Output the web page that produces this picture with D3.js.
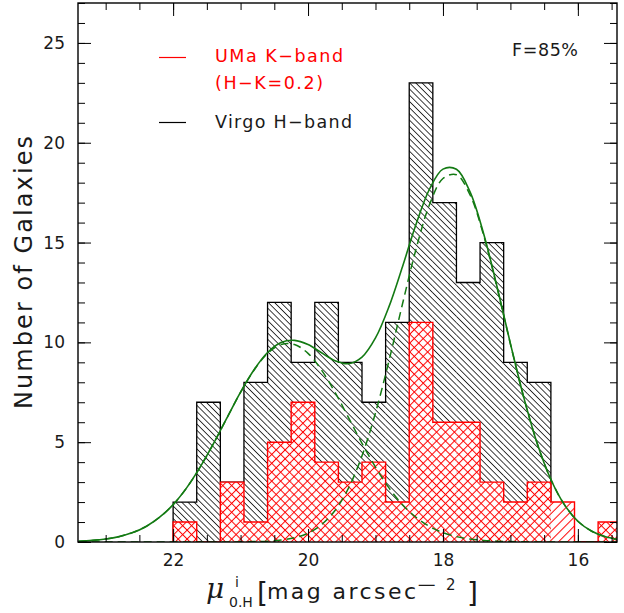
<!DOCTYPE html>
<html><head><meta charset="utf-8">
<script src="https://cdn.jsdelivr.net/npm/d3@7"></script>
<style>
body{margin:0;background:#fff}
svg text{font-family:"DejaVu Sans","Liberation Sans",sans-serif}
</style>
</head><body><svg id="chart" width="624" height="613"></svg>
<script>
// ---------------- data ----------------
const binEdges = [22.00,21.65,21.30,20.95,20.60,20.25,19.90,19.55,19.20,18.85,18.50,18.15,17.80,17.45,17.10,16.75,16.40,16.05,15.70,15.35];
const virgoCounts = [2,7,3,8,12,9,12,9,7,11,23,17,13,15,9,8,0,0,0];
const umaCounts   = [1,0,3,1,5,7,4,3,4,2,11,6,6,3,2,3,2,0,1];

const fitMag = [23.4,23.2,23.0,22.8,22.6,22.4,22.2,22.0,21.8,21.6,21.4,21.2,21.0,20.8,20.6,20.4,20.2,20.0,19.8,19.6,19.4,19.2,19.0,18.8,18.6,18.4,18.2,18.0,17.8,17.6,17.4,17.2,17.0,16.8,16.6,16.4,16.2,16.0,15.8,15.6,15.4];
const fitTotal = [0.04,0.08,0.15,0.27,0.47,0.78,1.24,1.87,2.71,3.75,4.94,6.23,7.51,8.63,9.49,9.99,10.10,9.89,9.48,9.08,8.93,9.26,10.22,11.79,13.79,15.90,17.67,18.68,18.67,17.55,15.48,12.81,9.94,7.22,4.91,3.13,1.87,1.04,0.55,0.27,0.12];
const fitFaint = [0.04,0.08,0.15,0.27,0.47,0.78,1.24,1.87,2.71,3.75,4.94,6.23,7.50,8.61,9.45,9.89,9.89,9.45,8.61,7.50,6.23,4.94,3.75,2.71,1.87,1.24,0.78,0.47,0.27,0.15,0.08,0.04,0.02,0.01,0,0,0,0,0,0,0];
const fitBright = [0,0,0,0,0,0,0,0,0,0,0,0,0.01,0.02,0.04,0.10,0.21,0.44,0.87,1.58,2.70,4.32,6.47,9.08,11.92,14.66,16.89,18.21,18.40,17.40,15.40,12.77,9.92,7.21,4.91,3.13,1.87,1.04,0.55,0.27,0.12];

const xTickLabels = [22,20,18,16];
const yTickLabels = [0,5,10,15,20,25];
const legendRed = ["UMa K\u2212band","(H\u2212K=0.2)"];
const legendBlack = "Virgo H\u2212band";
const fractionLabel = "F=85%";

// ---------------- layout ----------------
const L=78, R=617, T=3, B=542;
const svg = d3.select("#chart");
const x = d3.scaleLinear().domain([23.41,15.42]).range([L,R]);
const y = d3.scaleLinear().domain([0,27]).range([B,T]);
const green = "#137a13";
const ink = "#1a1a1a";

const defs = svg.append("defs");
defs.append("clipPath").attr("id","plotclip").append("rect")
  .attr("x",L).attr("y",T).attr("width",R-L).attr("height",B-T);

function hatch(id, angle, gap, color, w){
  const p = defs.append("pattern").attr("id",id)
    .attr("patternUnits","userSpaceOnUse")
    .attr("width",20).attr("height",gap)
    .attr("patternTransform",`rotate(${angle})`);
  p.append("line").attr("x1",0).attr("x2",20).attr("y1",gap/2).attr("y2",gap/2)
    .attr("stroke",color).attr("stroke-width",w);
}
hatch("hBlack",45,4.4,"#000",0.8);
hatch("hRedA",45,6.3,"#ff0000",1);
hatch("hRedB",-45,6.3,"#ff0000",1);

const plot = svg.append("g").attr("clip-path","url(#plotclip)");

const bins = virgoCounts.map((v,i)=>({lo:binEdges[i],hi:binEdges[i+1],v:v,u:umaCounts[i]}));

// Virgo histogram
plot.append("g").selectAll("rect").data(bins.filter(d=>d.v>0)).join("rect")
  .attr("x",d=>x(d.lo)).attr("width",d=>x(d.hi)-x(d.lo))
  .attr("y",d=>y(d.v)).attr("height",d=>y(0)-y(d.v))
  .attr("fill","url(#hBlack)");

function stepPts(counts){
  const pts=[[binEdges[0],0]];
  counts.forEach((c,i)=>pts.push([binEdges[i],c]));
  pts.push([binEdges[counts.length],counts[counts.length-1]]);
  pts.push([binEdges[counts.length],0]);
  return pts;
}
const stepLine = d3.line().x(d=>x(d[0])).y(d=>y(d[1])).curve(d3.curveStepAfter);
plot.append("path").attr("d",stepLine(stepPts(virgoCounts)))
  .attr("fill","none").attr("stroke","#000").attr("stroke-width",1.3);

// UMa histogram
const uBins = bins.filter(d=>d.u>0);
const singleHatch = new Set([16.40]);
const ug = plot.append("g");
ug.selectAll("rect.w").data(uBins).join("rect").attr("class","w")
  .attr("x",d=>x(d.lo)).attr("width",d=>x(d.hi)-x(d.lo))
  .attr("y",d=>y(d.u)).attr("height",d=>y(0)-y(d.u)).attr("fill","#fff");
ug.selectAll("rect.a").data(uBins.filter(d=>!singleHatch.has(d.lo))).join("rect").attr("class","a")
  .attr("x",d=>x(d.lo)).attr("width",d=>x(d.hi)-x(d.lo))
  .attr("y",d=>y(d.u)).attr("height",d=>y(0)-y(d.u)).attr("fill","url(#hRedA)");
ug.selectAll("rect.b").data(uBins).join("rect").attr("class","b")
  .attr("x",d=>x(d.lo)).attr("width",d=>x(d.hi)-x(d.lo))
  .attr("y",d=>y(d.u)).attr("height",d=>y(0)-y(d.u)).attr("fill","url(#hRedB)");
plot.append("path").attr("d",stepLine(stepPts(umaCounts)))
  .attr("fill","none").attr("stroke","#ff0000").attr("stroke-width",1.4);

// fitted curves
const curveLine = d3.line().x(d=>x(d[0])).y(d=>y(d[1])).curve(d3.curveCatmullRom.alpha(0.5));
[fitFaint, fitBright].forEach(arr=>{
  plot.append("path").attr("d",curveLine(fitMag.map((m,i)=>[m,arr[i]])))
    .attr("fill","none").attr("stroke",green).attr("stroke-width",1.5)
    .attr("stroke-dasharray","8,5");
});
plot.append("path").attr("d",curveLine(fitMag.map((m,i)=>[m,fitTotal[i]])))
  .attr("fill","none").attr("stroke",green).attr("stroke-width",1.6);

// ---------------- axes ----------------
const xMinor = d3.range(23.0,15.4,-0.5);
const yMinor = d3.range(0,28,1);
function styleAxis(g){ g.select(".domain").remove(); g.selectAll("line").attr("stroke","#000").attr("stroke-width",1);
  g.attr("font-family","DejaVu Sans, sans-serif").attr("font-size",17);
  g.selectAll("text").attr("fill",ink); }

svg.append("g").attr("transform",`translate(0,${B})`)
  .call(d3.axisBottom(x).tickValues(xMinor).tickSize(-7).tickFormat("")).call(styleAxis);
svg.append("g").attr("transform",`translate(0,${B})`)
  .call(d3.axisBottom(x).tickValues(xTickLabels).tickSize(-13).tickPadding(12).tickFormat(d3.format("d"))).call(styleAxis);
svg.append("g").attr("transform",`translate(0,${T})`)
  .call(d3.axisTop(x).tickValues(xMinor).tickSize(-7).tickFormat("")).call(styleAxis);
svg.append("g").attr("transform",`translate(0,${T})`)
  .call(d3.axisTop(x).tickValues(xTickLabels).tickSize(-13).tickFormat("")).call(styleAxis);
svg.append("g").attr("transform",`translate(${L},0)`)
  .call(d3.axisLeft(y).tickValues(yMinor).tickSize(-7).tickFormat("")).call(styleAxis);
svg.append("g").attr("transform",`translate(${L},0)`)
  .call(d3.axisLeft(y).tickValues(yTickLabels).tickSize(-13).tickPadding(13).tickFormat(d3.format("d"))).call(styleAxis);
svg.append("g").attr("transform",`translate(${R},0)`)
  .call(d3.axisRight(y).tickValues(yMinor).tickSize(-7).tickFormat("")).call(styleAxis);
svg.append("g").attr("transform",`translate(${R},0)`)
  .call(d3.axisRight(y).tickValues(yTickLabels).tickSize(-13).tickFormat("")).call(styleAxis);

svg.append("rect").attr("x",L).attr("y",T).attr("width",R-L).attr("height",B-T)
  .attr("fill","none").attr("stroke","#000").attr("stroke-width",1.4);

// ---------------- labels ----------------
svg.append("text").attr("transform",`translate(32,${(T+B)/2}) rotate(-90)`)
  .attr("text-anchor","middle").attr("font-size",24)
  .attr("textLength",273).attr("lengthAdjust","spacing")
  .attr("fill",ink).text("Number of Galaxies");

const xt = svg.append("g").attr("fill",ink);
xt.append("text").attr("x",206).attr("y",598).attr("font-size",28)
  .attr("font-style","italic").style("font-family","'DejaVu Serif',serif").text("\u03bc");
xt.append("text").attr("x",235).attr("y",587).attr("font-size",14).text("i");
xt.append("text").attr("x",229).attr("y",607).attr("font-size",14).text("0.H");
xt.append("text").attr("x",257).attr("y",603).attr("font-size",28).text("[");
xt.append("text").attr("x",267).attr("y",599).attr("font-size",22)
  .attr("textLength",149).attr("lengthAdjust","spacing").text("mag arcsec");
xt.append("text").attr("transform","translate(416,590) scale(1.7,1)").attr("font-size",15).text("\u2212");
xt.append("text").attr("x",446).attr("y",590).attr("font-size",15).text("2");
xt.append("text").attr("x",467).attr("y",603).attr("font-size",28).text("]");

// legend
svg.append("line").attr("x1",159).attr("x2",186).attr("y1",57.5).attr("y2",57.5)
  .attr("stroke","#ff0000").attr("stroke-width",1.2);
svg.append("text").attr("x",215).attr("y",62).attr("font-size",17.5).attr("fill","#ff0000")
  .attr("textLength",128).attr("lengthAdjust","spacing").text(legendRed[0]);
svg.append("text").attr("x",215).attr("y",89).attr("font-size",17.5).attr("fill","#ff0000")
  .attr("textLength",108).attr("lengthAdjust","spacing").text(legendRed[1]);
svg.append("line").attr("x1",159).attr("x2",186).attr("y1",122.5).attr("y2",122.5)
  .attr("stroke","#000").attr("stroke-width",1.2);
svg.append("text").attr("x",215).attr("y",128).attr("font-size",17.5).attr("fill",ink)
  .attr("textLength",137).attr("lengthAdjust","spacing").text(legendBlack);
svg.append("text").attr("x",512).attr("y",56).attr("font-size",17.5).attr("fill",ink)
  .attr("textLength",66).attr("lengthAdjust","spacing").text(fractionLabel);
</script>
</body></html>
